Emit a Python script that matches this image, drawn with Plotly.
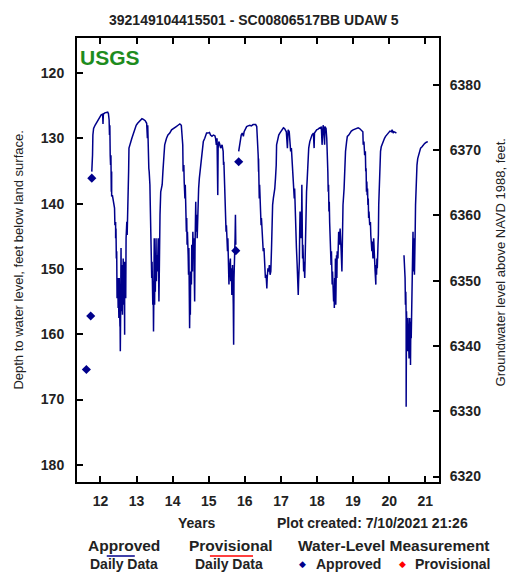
import plotly.graph_objects as go

# Tagesmittel (approved daily data), Jahr als Dezimalzahl (12 = 2012), Tiefe in feet
# Abschnitt 1: 2011.76 - 2015.75
yr_a = [11.76, 11.76, 11.78, 11.79, 11.81, 11.85, 11.88, 11.92, 11.97, 12.02, 12.06, 12.07, 12.08, 12.12,
        12.16, 12.20, 12.22, 12.24, 12.25, 12.26, 12.27, 12.28, 12.29, 12.30, 12.31, 12.31, 12.33, 12.35,
        12.37, 12.39, 12.40, 12.42, 12.42, 12.43, 12.44, 12.45, 12.46, 12.48, 12.49, 12.50, 12.51, 12.52,
        12.53, 12.54, 12.54, 12.55, 12.56, 12.57, 12.58, 12.60, 12.61, 12.63, 12.64, 12.66, 12.67, 12.67,
        12.69, 12.70, 12.71, 12.72, 12.73, 12.74, 12.75, 12.76, 12.78, 12.79, 12.81, 12.84, 12.87, 12.90,
        12.93, 12.96, 12.99, 13.03, 13.06, 13.10, 13.15, 13.19, 13.24, 13.28, 13.30, 13.31, 13.32, 13.34,
        13.35, 13.37, 13.38, 13.39, 13.40, 13.41, 13.42, 13.43, 13.44, 13.45, 13.46, 13.47, 13.48, 13.49,
        13.50, 13.51, 13.52, 13.54, 13.55, 13.56, 13.58, 13.60, 13.62, 13.63, 13.64, 13.65, 13.67, 13.69,
        13.71, 13.73, 13.74, 13.76, 13.78, 13.80, 13.83, 13.87, 13.92, 13.97, 14.01, 14.06, 14.10, 14.15,
        14.20, 14.24, 14.26, 14.28, 14.29, 14.31, 14.32, 14.34, 14.35, 14.36, 14.38, 14.39, 14.40, 14.41,
        14.43, 14.44, 14.45, 14.46, 14.46, 14.47, 14.48, 14.49, 14.50, 14.52, 14.53, 14.55, 14.56, 14.58,
        14.59, 14.60, 14.61, 14.62, 14.64, 14.65, 14.67, 14.68, 14.69, 14.70, 14.71, 14.72, 14.74, 14.76,
        14.78, 14.80, 14.82, 14.85, 14.89, 14.92, 14.94, 14.98, 15.02, 15.05, 15.09, 15.13, 15.17, 15.19,
        15.21, 15.23, 15.24, 15.25, 15.26, 15.28, 15.30, 15.33, 15.37, 15.40, 15.41, 15.42, 15.44, 15.45,
        15.47, 15.48, 15.49, 15.50, 15.51, 15.52, 15.53, 15.54, 15.55, 15.56, 15.57, 15.59, 15.60, 15.61,
        15.63, 15.64, 15.65, 15.66, 15.68, 15.69, 15.70, 15.72, 15.73, 15.74, 15.75]
dep_a = [135.1, 132.8, 132.6, 129.5, 128.5, 128.0, 127.7, 127.2, 126.7, 126.4, 126.3, 127.8, 126.3, 126.1,
         126.0, 126.0, 126.2, 127.2, 129.5, 128.0, 132.6, 134.1, 132.6, 138.2, 135.1, 138.9, 138.7, 139.4,
         140.2, 140.7, 143.3, 142.8, 145.3, 143.8, 148.4, 147.3, 154.5, 151.4, 156.0, 154.0, 157.5, 151.4,
         156.0, 158.8, 155.5, 162.6, 156.0, 146.8, 156.5, 149.4, 157.0, 148.4, 155.5, 148.9, 160.1, 153.5,
         148.9, 154.5, 145.3, 144.3, 142.8, 144.8, 140.2, 137.1, 135.1, 131.5, 131.0, 130.3, 130.0, 129.5,
         129.0, 128.5, 128.0, 127.7, 127.5, 127.2, 127.0, 127.1, 127.3, 127.7, 130.0, 128.0, 134.1, 134.6,
         135.1, 137.1, 140.2, 144.3, 147.9, 145.3, 151.4, 148.9, 153.5, 155.5, 151.9, 159.6, 153.5, 145.3,
         155.5, 147.9, 153.5, 145.3, 151.9, 147.9, 150.4, 145.3, 155.0, 148.4, 144.3, 141.7, 138.2, 137.7,
         137.1, 135.1, 133.1, 132.6, 131.0, 130.5, 130.0, 129.5, 129.2, 128.7, 128.5, 128.4, 128.2, 128.0,
         127.8, 128.0, 130.0, 131.0, 135.1, 134.1, 136.6, 139.2, 137.1, 140.2, 144.3, 142.2, 146.3, 144.3,
         147.9, 150.9, 146.8, 153.5, 150.4, 159.1, 153.5, 157.0, 150.4, 152.4, 146.3, 150.4, 144.3, 148.4,
         145.3, 151.4, 155.0, 146.8, 139.7, 144.3, 141.7, 145.3, 142.2, 143.3, 139.2, 137.7, 136.1, 135.1,
         133.6, 132.6, 131.5, 130.5, 130.0, 129.5, 129.2, 129.2, 129.1, 129.5, 129.7, 129.5, 129.6, 130.0,
         131.0, 130.0, 133.1, 138.7, 131.5, 130.5, 130.8, 131.5, 131.0, 132.0, 134.1, 133.6, 137.1, 140.2,
         142.2, 144.3, 143.3, 146.3, 144.3, 147.3, 145.3, 150.4, 147.3, 152.4, 150.4, 149.4, 148.4, 151.9,
         149.9, 154.0, 151.4, 149.4, 155.5, 161.6, 151.4, 148.4, 145.3, 141.7, 146.3]

# Abschnitt 2: 2015.83 - 2020.20
yr_b = [15.83, 15.86, 15.89, 15.90, 15.93, 15.96, 15.98, 16.02, 16.05, 16.09, 16.14, 16.18, 16.23, 16.27,
        16.30, 16.33, 16.35, 16.37, 16.38, 16.38, 16.39, 16.40, 16.41, 16.42, 16.43, 16.44, 16.45, 16.46,
        16.48, 16.50, 16.51, 16.53, 16.55, 16.57, 16.59, 16.61, 16.62, 16.64, 16.66, 16.68, 16.70, 16.72,
        16.74, 16.75, 16.77, 16.79, 16.81, 16.83, 16.85, 16.87, 16.88, 16.90, 16.92, 16.94, 16.97, 17.00,
        17.03, 17.07, 17.10, 17.15, 17.18, 17.20, 17.23, 17.25, 17.27, 17.29, 17.31, 17.33, 17.34, 17.35,
        17.36, 17.37, 17.38, 17.39, 17.40, 17.41, 17.43, 17.45, 17.46, 17.47, 17.48, 17.49, 17.51, 17.52,
        17.53, 17.55, 17.56, 17.57, 17.58, 17.59, 17.60, 17.61, 17.63, 17.64, 17.66, 17.67, 17.68, 17.70,
        17.71, 17.73, 17.75, 17.77, 17.80, 17.82, 17.86, 17.90, 17.92, 17.93, 17.95, 17.99, 18.03, 18.07,
        18.10, 18.12, 18.14, 18.15, 18.17, 18.19, 18.21, 18.22, 18.25, 18.27, 18.29, 18.30, 18.31, 18.32,
        18.33, 18.34, 18.35, 18.36, 18.37, 18.38, 18.39, 18.40, 18.41, 18.42, 18.42, 18.43, 18.44, 18.45,
        18.46, 18.47, 18.48, 18.49, 18.50, 18.51, 18.52, 18.54, 18.55, 18.56, 18.58, 18.60, 18.62, 18.64,
        18.66, 18.67, 18.69, 18.70, 18.72, 18.75, 18.77, 18.79, 18.82, 18.84, 18.88, 18.91, 18.95, 19.00,
        19.04, 19.09, 19.14, 19.18, 19.23, 19.27, 19.28, 19.30, 19.32, 19.34, 19.35, 19.36, 19.37, 19.38,
        19.39, 19.40, 19.41, 19.42, 19.43, 19.44, 19.46, 19.48, 19.49, 19.51, 19.52, 19.53, 19.55, 19.57,
        19.58, 19.59, 19.60, 19.61, 19.63, 19.63, 19.65, 19.66, 19.67, 19.69, 19.70, 19.71, 19.73, 19.75,
        19.76, 19.78, 19.81, 19.84, 19.87, 19.90, 19.93, 19.97, 19.99, 20.02, 20.06, 20.08, 20.11, 20.13,
        20.17, 20.20]
dep_b = [132.0, 130.5, 130.0, 129.5, 129.2, 129.7, 129.0, 128.5, 128.2, 128.1, 128.0, 128.1, 127.9, 127.9,
         127.9, 128.2, 130.0, 132.6, 135.1, 133.1, 136.6, 139.2, 137.1, 139.7, 142.2, 140.2, 143.3, 142.2,
         143.8, 145.3, 147.3, 146.8, 150.4, 151.4, 150.9, 153.0, 151.4, 149.9, 150.4, 149.4, 150.9, 150.4,
         146.8, 141.7, 140.2, 139.2, 138.7, 137.7, 136.1, 134.1, 131.0, 130.5, 129.7, 129.5, 129.2, 129.0,
         128.7, 128.4, 128.5, 129.0, 131.5, 128.7, 129.0, 130.0, 132.0, 131.5, 133.6, 135.1, 136.6, 135.6,
         138.2, 139.2, 137.7, 140.2, 144.3, 146.3, 146.8, 149.4, 151.4, 150.4, 154.0, 151.9, 148.9, 144.3,
         141.2, 143.3, 145.3, 144.3, 137.1, 143.3, 148.4, 146.3, 150.4, 148.9, 151.4, 148.4, 144.3, 140.2,
         138.2, 136.1, 133.1, 131.5, 130.5, 130.0, 129.5, 129.2, 131.5, 129.2, 129.0, 128.7, 128.6, 128.4,
         128.5, 128.2, 131.0, 128.4, 128.0, 128.5, 131.0, 128.2, 128.5, 130.0, 132.6, 135.1, 138.2, 137.1,
         141.2, 139.7, 142.8, 145.3, 143.3, 146.3, 149.4, 147.3, 151.4, 149.4, 152.4, 150.4, 153.5, 151.9,
         155.0, 153.0, 156.0, 151.4, 154.5, 148.4, 155.5, 147.9, 151.4, 147.3, 148.4, 144.3, 146.3, 143.8,
         145.3, 147.3, 150.4, 145.3, 140.2, 137.7, 134.1, 132.0, 130.5, 129.7, 129.5, 129.2, 128.9, 128.7,
         128.6, 128.5, 128.4, 128.5, 128.7, 129.0, 131.0, 130.5, 132.6, 132.0, 135.1, 134.6, 138.2, 136.6,
         138.7, 137.7, 140.2, 139.2, 142.2, 141.2, 143.3, 142.8, 144.8, 146.3, 147.3, 145.8, 148.4, 145.3,
         147.9, 148.9, 148.4, 150.4, 152.4, 149.4, 150.9, 148.4, 149.9, 146.3, 144.8, 140.2, 135.1, 133.6,
         132.0, 131.3, 130.8, 130.3, 130.0, 129.7, 129.5, 129.2, 129.0, 128.9, 129.0, 128.7, 129.2, 129.0,
         129.1, 129.2]

# Abschnitt 3: 2020.41 - 2021.07
yr_c = [20.41, 20.42, 20.43, 20.44, 20.45, 20.46, 20.47, 20.47, 20.48, 20.49, 20.50, 20.51, 20.52, 20.53,
        20.54, 20.55, 20.56, 20.57, 20.58, 20.59, 20.59, 20.60, 20.61, 20.62, 20.63, 20.64, 20.65, 20.66,
        20.67, 20.68, 20.69, 20.70, 20.70, 20.71, 20.72, 20.73, 20.74, 20.75, 20.77, 20.79, 20.82, 20.84,
        20.87, 20.91, 20.95, 20.98, 21.03, 21.07]
dep_c = [147.9, 148.9, 148.4, 151.4, 155.5, 153.5, 157.5, 171.1, 156.5, 160.6, 158.6, 162.6, 157.5, 161.6,
         159.6, 163.7, 160.6, 157.5, 160.6, 163.7, 164.7, 158.1, 160.6, 157.5, 153.5, 150.4, 146.3, 144.3,
         150.4, 145.3, 147.3, 150.9, 146.3, 148.9, 144.3, 140.2, 137.1, 135.1, 134.1, 133.1, 132.6, 132.0,
         131.5, 131.3, 131.0, 130.8, 130.6, 130.5]

# Einzelmessungen (approved water-level measurements)
meas_year = [11.61, 11.73, 11.76, 15.75, 15.83]
meas_depth = [165.4, 157.2, 136.1, 147.2, 133.6]

year_ticks = [12, 13, 14, 15, 16, 17, 18, 19, 20, 21]
year_labels = ['12', '13', '14', '15', '16', '17', '18', '19', '20', '21']
depth_ticks = [120, 130, 140, 150, 160, 170, 180]
elev_ticks = [6320, 6330, 6340, 6350, 6360, 6370, 6380]

land_surface = 6501.8          # Geländehöhe (NAVD 1988)
depth_range = [182.63, 114.64]  # umgekehrte Achse
x_range = [11.35, 21.38]

NAVY = '#00008B'
FONT = 'Liberation Sans, Arial, sans-serif'

# Lücken zwischen den Abschnitten
daily_year = yr_a + [None] + yr_b + [None] + yr_c
daily_depth = dep_a + [None] + dep_b + [None] + dep_c

fig = go.Figure()
fig.add_trace(go.Scatter(
    x=daily_year, y=daily_depth, mode='lines',
    line=dict(color=NAVY, width=1.5), connectgaps=False, showlegend=False
))
fig.add_trace(go.Scatter(
    x=meas_year, y=meas_depth, mode='markers',
    marker=dict(symbol='diamond', size=7, color=NAVY), showlegend=False
))
# unsichtbare Spur, damit die rechte Achse (Höhe NAVD 1988) gezeichnet wird
fig.add_trace(go.Scatter(
    x=meas_year, y=[land_surface - d for d in meas_depth], yaxis='y2', mode='markers',
    marker=dict(opacity=0), hoverinfo='skip', showlegend=False
))

axis_common = dict(
    showgrid=False, zeroline=False, showline=True, linecolor='black', linewidth=2,
    ticks='inside', ticklen=6, tickwidth=1.5, tickcolor='black',
    tickfont=dict(family=FONT, size=14, color='#222', weight='bold'),
)

fig.update_layout(
    width=513, height=573,
    margin=dict(l=77, r=74, t=38, b=91, autoexpand=False),
    paper_bgcolor='white', plot_bgcolor='white',
    showlegend=False,
    xaxis=dict(range=x_range, tickvals=year_ticks, ticktext=year_labels,
               mirror='ticks', ticklabelstandoff=5, **axis_common),
    yaxis=dict(range=depth_range, tickvals=depth_ticks, ticklabelstandoff=8, **axis_common),
    yaxis2=dict(range=[land_surface - d for d in depth_range], tickvals=elev_ticks,
                overlaying='y', side='right', ticklabelstandoff=6, **axis_common),
)


def px_x(px):
    return (px - 77.3) / 361.4


def note(text, px, py, size=14, color='#222', bold=True, angle=0):
    fig.add_annotation(
        text=f'<b>{text}</b>' if bold else text,
        xref='paper', yref='paper', x=px_x(px), y=(482 - py) / 444,
        xanchor='center', yanchor='middle', showarrow=False, textangle=angle,
        font=dict(family=FONT, size=size, color=color)
    )


# Titel und Achsentitel
note('392149104415501 - SC00806517BB UDAW 5', 254, 20, size=14)
note('USGS', 110, 57, size=21, color='#1E8C1E')
note('Depth to water level, feet below land surface.', 18, 260, size=13, bold=False, angle=-90)
note('Groundwater level above NAVD 1988, feet.', 500, 262, size=13, bold=False, angle=-90)

# Fußzeile
note('Years', 197, 523)
note('Plot created: 7/10/2021 21:26', 372, 523)
note('Approved', 124, 545, size=15.5)
note('Provisional', 231, 545, size=15.5)
note('Water-Level Measurement', 394, 545, size=15.5)
note('Daily Data', 124, 564, size=14)
note('Daily Data', 229, 564, size=14)
note('◆', 302, 564, size=9, color=NAVY, bold=False)
note('Approved', 348, 564, size=14)
note('◆', 402, 564, size=9, color='red', bold=False)
note('Provisional', 452, 564, size=14)

# Linien unter den Legendenbegriffen
for x0, x1, col in [(107, 135, NAVY), (210, 253, 'red')]:
    fig.add_shape(type='line', xref='paper', yref='paper',
                  x0=px_x(x0), x1=px_x(x1), y0=(482 - 556) / 444, y1=(482 - 556) / 444,
                  line=dict(color=col, width=1.5))

# Standard-Rand des body entfernen, damit die Grafik genau ins Fenster passt
fig.write_html('out.html', config={'displayModeBar': False},
               post_script="document.body.style.margin='0';")
